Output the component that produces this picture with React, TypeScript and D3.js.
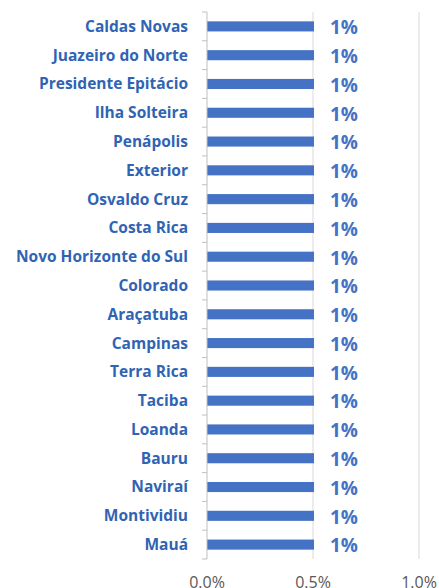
import React from "react";
import * as d3 from "d3";

const categories = [
  "Caldas Novas", "Juazeiro do Norte", "Presidente Epitácio", "Ilha Solteira", "Penápolis",
  "Exterior", "Osvaldo Cruz", "Costa Rica", "Novo Horizonte do Sul", "Colorado",
  "Araçatuba", "Campinas", "Terra Rica", "Taciba", "Loanda", "Bauru", "Naviraí",
  "Montividiu", "Mauá",
];
const values = [
  0.005, 0.005, 0.005, 0.005, 0.005, 0.005, 0.005, 0.005, 0.005, 0.005,
  0.005, 0.005, 0.005, 0.005, 0.005, 0.005, 0.005, 0.005, 0.005,
];
const xTicks = [0, 0.005, 0.01];

export default function App() {
  const W = 439, H = 588;
  const left = 207, right = 419, top = 12, bottom = 559;
  const x = d3.scaleLinear().domain([0, 0.01]).range([left, right]);
  const y = d3.scaleBand<string>().domain(categories).range([top, bottom]).paddingInner(0.65).paddingOuter(0.325);
  const yb = d3.scaleBand<string>().domain(categories).range([top, bottom]);
  const tickFmt = d3.format(".1%");
  const labelFmt = d3.format(".0%");
  const blue = "#4472C4";
  return (
    <svg width={W} height={H} style={{ position: "absolute", left: 0, top: 0 }}>
      <rect width={W} height={H} fill="#fff" />
      {xTicks.slice(1).map((t) => (
        <line key={t} x1={x(t)} x2={x(t)} y1={top} y2={bottom} stroke="#D9D9D9" strokeWidth={1} />
      ))}
      {categories.map((c, i) => (
        <rect key={c} x={x(0)} y={y(c)} width={x(values[i]) - x(0) + 1} height={y.bandwidth()} fill={blue} />
      ))}
      <line x1={left} x2={left} y1={top} y2={bottom} stroke="#BFBFBF" strokeWidth={1} />
      {categories.map((c) => (
        <line key={"t" + c} x1={left - 5} x2={left} y1={yb(c)} y2={yb(c)} stroke="#BFBFBF" />
      ))}
      <line x1={left - 5} x2={left} y1={bottom} y2={bottom} stroke="#BFBFBF" />
      {categories.map((c) => (
        <text key={"l" + c} x={188} y={(yb(c) ?? 0) + yb.bandwidth() / 2} dy="0.35em" textAnchor="end"
          fontFamily="'Open Sans', sans-serif" fontWeight={700} fontSize={15.5} fill="#3064B3">{c}</text>
      ))}
      {categories.map((c, i) => (
        <text key={"v" + c} x={x(values[i]) + 17} y={(yb(c) ?? 0) + yb.bandwidth() / 2 + 1} dy="0.36em"
          fontFamily="'Open Sans', sans-serif" fontWeight={700} fontSize={19} fill={blue}>{labelFmt(values[i])}</text>
      ))}
      {xTicks.map((t) => (
        <text key={"x" + t} x={x(t)} y={588} textAnchor="middle" fontFamily="'Open Sans', sans-serif"
          fontSize={16} fill="#595959">{tickFmt(t)}</text>
      ))}
    </svg>
  );
}
